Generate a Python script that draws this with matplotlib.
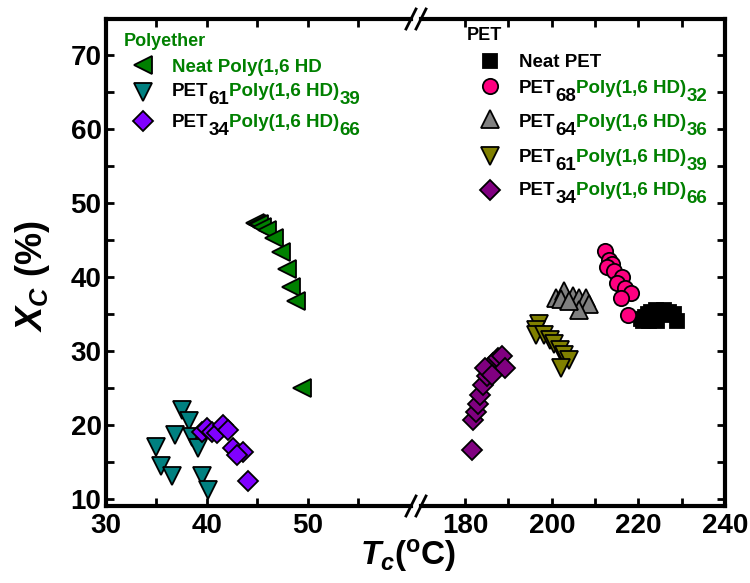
import matplotlib
matplotlib.use('Agg')
import matplotlib.pyplot as plt
from matplotlib.lines import Line2D
from matplotlib.ticker import FixedLocator

plt.rcParams['font.family'] = ['Liberation Sans', 'DejaVu Sans']
plt.rcParams['font.weight'] = 'bold'
plt.rcParams['mathtext.fontset'] = 'custom'
plt.rcParams['mathtext.rm'] = 'Liberation Sans:bold'
plt.rcParams['mathtext.bf'] = 'Liberation Sans:bold'
plt.rcParams['mathtext.it'] = 'Liberation Sans:italic:bold'

# polyether phase (left part of the broken axis)
neat_hd_x = [44.8, 45.0, 45.2, 45.5, 46.0, 46.6, 47.3, 47.9, 48.3, 48.8, 49.4]
neat_hd_y = [47.3, 47.2, 47.1, 46.7, 46.4, 45.3, 43.3, 41.1, 38.7, 36.8, 25.0]
pe61_x = [37.5, 38.2, 36.9, 38.5, 39.1, 35.0, 35.5, 36.6, 39.5, 40.1]
pe61_y = [22.0, 20.5, 18.7, 18.4, 16.9, 17.1, 14.5, 13.1, 13.2, 11.2]
pe34_x = [39.5, 40.0, 40.5, 41.0, 41.6, 42.1, 42.6, 43.6, 43.0, 44.1]
pe34_y = [19.1, 19.6, 19.1, 18.9, 20.0, 19.3, 16.9, 16.4, 16.0, 12.5]

# PET phase (right part)
neat_pet_x = [220.5, 221.5, 222.2, 223.0, 224.0, 225.0, 226.0, 227.0, 228.3, 228.9, 227.0, 224.3, 222.5, 221.0]
neat_pet_y = [34.3, 34.6, 35.0, 35.3, 35.5, 35.3, 35.5, 35.3, 35.0, 34.1, 34.8, 34.0, 34.0, 34.1]
p68_x = [212.3, 213.2, 213.8, 212.8, 214.3, 216.2, 215.1, 217.0, 218.2, 215.9, 217.6]
p68_y = [43.5, 42.3, 41.7, 41.4, 40.8, 40.0, 39.2, 38.5, 37.9, 37.2, 34.9]
p64_x = [201.0, 202.9, 204.8, 206.3, 207.9, 208.6, 206.3, 202.1, 204.0]
p64_y = [37.2, 38.1, 37.4, 37.2, 37.2, 36.3, 35.6, 37.0, 36.8]
p61_x = [197.0, 196.4, 196.3, 198.3, 199.5, 200.6, 201.8, 202.9, 204.0, 202.1]
p61_y = [33.6, 32.9, 32.2, 32.2, 31.5, 30.9, 30.2, 29.5, 28.8, 27.7]
p34_x = [181.5, 181.9, 182.5, 183.0, 183.4, 184.2, 185.0, 185.7, 186.5, 187.6, 188.6, 189.2, 184.6, 186.1]
p34_y = [16.6, 20.7, 21.8, 22.9, 24.1, 25.4, 26.6, 27.5, 28.4, 29.1, 29.3, 27.7, 27.7, 26.8]

GREEN = '#008000'
W, H = 750, 583

fig = plt.figure(figsize=(7.5, 5.83), dpi=100)
axL = fig.add_axes([105.7 / W, 77 / H, 305.3 / W, 487 / H])
axR = fig.add_axes([421 / W, 77 / H, 304 / W, 487 / H])

mk = dict(linestyle='none', markeredgecolor='black', markeredgewidth=1.3)
axL.plot(neat_hd_x, neat_hd_y, marker='<', ms=13, color=GREEN, **mk)
axL.plot(pe61_x, pe61_y, marker='v', ms=13, color='#008080', **mk)
axL.plot(pe34_x, pe34_y, marker='D', ms=10, color='#8000FF', **mk)

axR.plot(neat_pet_x, neat_pet_y, marker='s', ms=10, color='black', **mk)
axR.plot(p68_x, p68_y, marker='o', ms=11, color='#FF0080', **mk)
axR.plot(p64_x, p64_y, marker='^', ms=13, color='#808080', **mk)
axR.plot(p61_x, p61_y, marker='v', ms=13, color='#808000', **mk)
axR.plot(p34_x, p34_y, marker='D', ms=10, color='#800080', **mk)

axL.set_xlim(30, 60.2)
axR.set_xlim(169.8, 240)
for ax in (axL, axR):
    ax.set_ylim(9.1, 74.8)
    for s in ax.spines.values():
        s.set_linewidth(3)
    ax.tick_params(which='both', direction='in', length=6, width=2, labelsize=20,
                   top=True, pad=5)
axL.spines['right'].set_visible(False)
axR.spines['left'].set_visible(False)

axL.xaxis.set_major_locator(FixedLocator([30, 40, 50]))
axL.xaxis.set_minor_locator(FixedLocator([35, 45, 55]))
axR.xaxis.set_major_locator(FixedLocator([180, 200, 220, 240]))
axR.xaxis.set_minor_locator(FixedLocator([190, 210, 230]))
for ax in (axL, axR):
    ax.yaxis.set_major_locator(FixedLocator([10, 20, 30, 40, 50, 60, 70]))
    ax.yaxis.set_minor_locator(FixedLocator([15, 25, 35, 45, 55, 65]))
axL.tick_params(axis='y', pad=3)
axR.tick_params(axis='y', which='both', left=False, right=True, labelleft=False)

# break marks
for bx in (411, 421):
    for by in (506, 19):
        fig.add_artist(Line2D([(bx - 5) / W, (bx + 5) / W], [1 - (by + 10) / H, 1 - (by - 10) / H],
                              color='black', lw=2, transform=fig.transFigure))

fig.text(408 / W, 1 - 556 / H, r'$T_c$($^{\mathrm{o}}$C)', ha='center', va='center', fontsize=24)
fig.text(33 / W, 1 - 276 / H, r'$X_C$ (%)', ha='center', va='center', rotation=90, fontsize=26)

renderer = fig.canvas.get_renderer()


def leg_marker(px, py, marker, color, ms):
    fig.add_artist(Line2D([px / W], [1 - py / H], marker=marker, ms=ms, color=color,
                          transform=fig.transFigure, **mk))


def leg_text(px, base, parts, size=13.5):
    # parts: (text, colour, subscript?) written one after another
    x = px
    for s, c, sub in parts:
        y = base + (8 if sub else 0)
        t = fig.text(x / W, 1 - y / H, s, color=c, fontsize=size, fontweight='bold',
                     ha='left', va='baseline')
        x += t.get_window_extent(renderer=renderer).width


# polyether legend
leg_text(124, 46, [('Polyether', GREEN, False)], 13)
leg_marker(143, 65, '<', GREEN, 13)
leg_text(172, 72, [('Neat Poly(1,6 HD', GREEN, False)])
leg_marker(143, 92, 'v', '#008080', 13)
leg_text(172, 96, [('PET', 'black', False), ('61', 'black', True),
                   ('Poly(1,6 HD)', GREEN, False), ('39', GREEN, True)])
leg_marker(143, 121, 'D', '#8000FF', 10)
leg_text(172, 127, [('PET', 'black', False), ('34', 'black', True),
                    ('Poly(1,6 HD)', GREEN, False), ('66', GREEN, True)])

# PET legend
leg_text(467, 40, [('PET', 'black', False)], 13)
leg_marker(490, 61, 's', 'black', 10)
leg_text(519, 67, [('Neat PET', 'black', False)])
leg_marker(490, 86, 'o', '#FF0080', 11)
leg_text(519, 93, [('PET', 'black', False), ('68', 'black', True),
                   ('Poly(1,6 HD)', GREEN, False), ('32', GREEN, True)])
leg_marker(490, 119, '^', '#808080', 13)
leg_text(519, 127, [('PET', 'black', False), ('64', 'black', True),
                    ('Poly(1,6 HD)', GREEN, False), ('36', GREEN, True)])
leg_marker(490, 156, 'v', '#808000', 13)
leg_text(519, 162, [('PET', 'black', False), ('61', 'black', True),
                    ('Poly(1,6 HD)', GREEN, False), ('39', GREEN, True)])
leg_marker(490, 190, 'D', '#800080', 10)
leg_text(519, 195, [('PET', 'black', False), ('34', 'black', True),
                    ('Poly(1,6 HD)', GREEN, False), ('66', GREEN, True)])

fig.savefig('out.png', dpi=100)
